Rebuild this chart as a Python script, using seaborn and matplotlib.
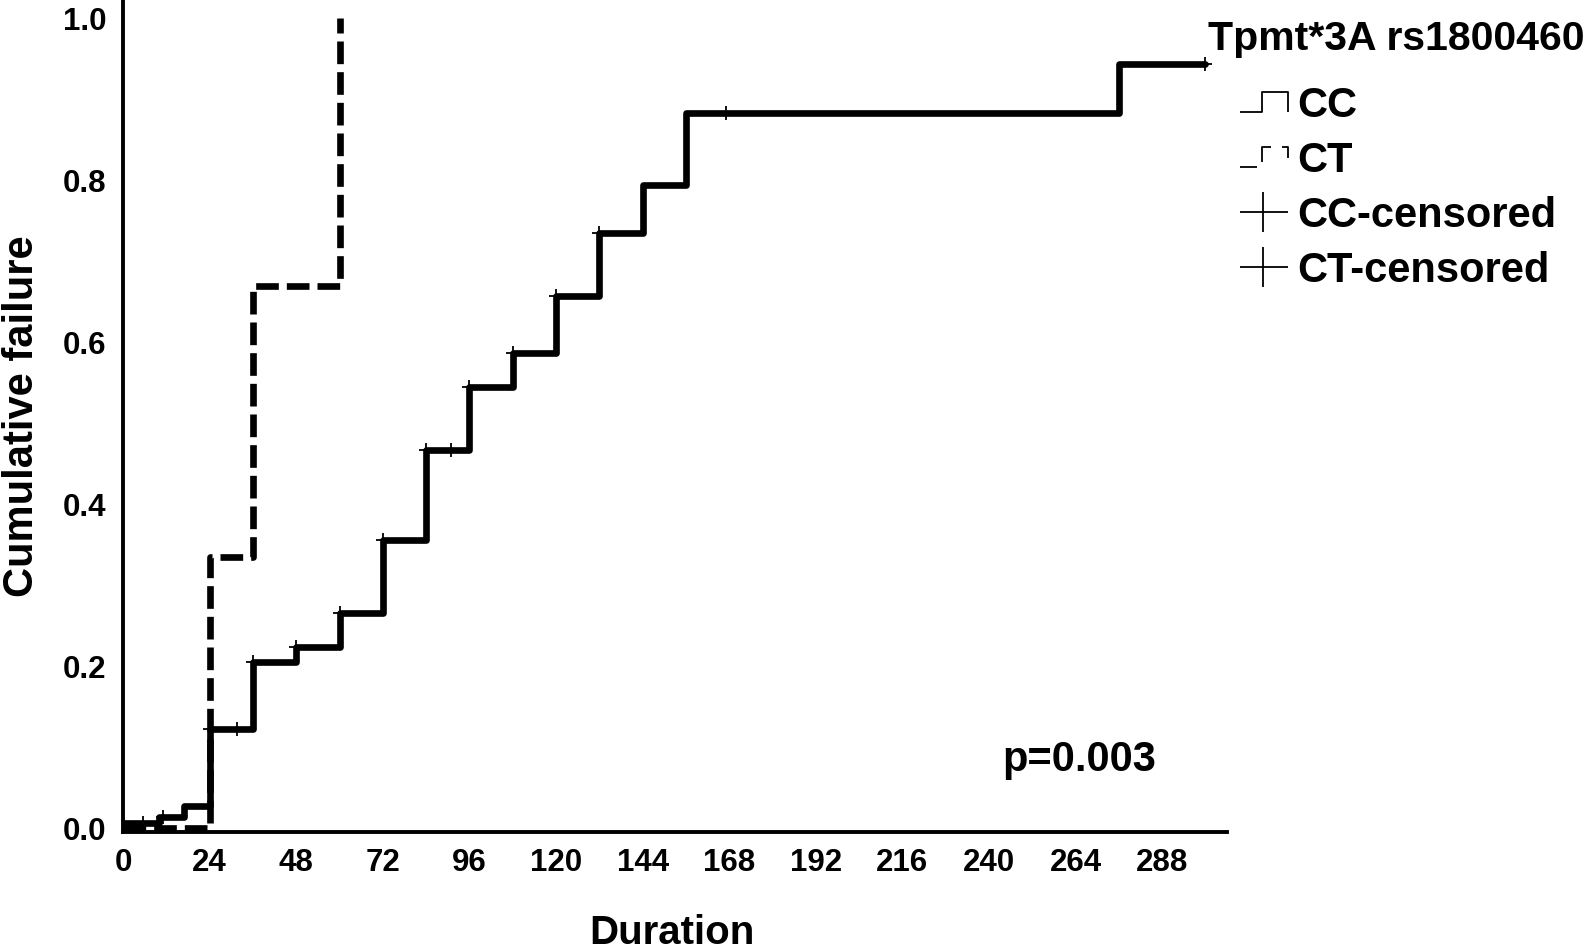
import numpy as np
import pandas as pd
import seaborn as sns
import matplotlib.pyplot as plt
from matplotlib.path import Path
from matplotlib.lines import Line2D

# step data (time in months, cumulative failure)
cc_time = [0, 10, 17, 24, 36, 48, 60, 72, 84, 96, 108, 120, 132, 144, 156, 276, 300]
cc_fail = [0.007, 0.014, 0.028, 0.123, 0.206, 0.224, 0.266, 0.356, 0.467, 0.545,
           0.587, 0.657, 0.735, 0.794, 0.883, 0.943, 0.943]
ct_time = [0, 24, 36, 60]
ct_fail = [0.0, 0.335, 0.669, 1.0]
# censored times for CC
cc_cens = [5.5, 11, 24, 31.5, 36, 48, 60, 72, 84, 91, 96, 108, 120, 132, 167, 300]

xticks = list(range(0, 289, 24))
yticks = [0.0, 0.2, 0.4, 0.6, 0.8, 1.0]

sns.set_theme(style='white')
plt.rcParams['font.family'] = ['Liberation Sans', 'DejaVu Sans']
plt.rcParams['font.weight'] = 'bold'
plt.rcParams['text.color'] = 'black'
plt.rcParams['axes.labelcolor'] = 'black'
plt.rcParams['xtick.color'] = 'black'
plt.rcParams['ytick.color'] = 'black'

fig = plt.figure(figsize=(15.94, 9.5), dpi=100)
ax = fig.add_axes([0.0772, 0.1245, 0.6926, 0.8755])

cc = pd.DataFrame({'t': cc_time, 'f': cc_fail})
ct = pd.DataFrame({'t': ct_time, 'f': ct_fail})

sns.lineplot(data=cc, x='t', y='f', ax=ax, color='black', lw=4.8,
             drawstyle='steps-post', estimator=None, sort=False)
sns.lineplot(data=ct, x='t', y='f', ax=ax, color='black', lw=4.8,
             drawstyle='steps-post', estimator=None, sort=False)
ax.lines[-1].set_linestyle((0, (3.4, 1.2)))
ax.lines[-1].set_dash_capstyle('butt')

# censor marks sit on the CC step curve
idx = np.searchsorted(cc_time, cc_cens, side='right') - 1
cens_df = pd.DataFrame({'t': cc_cens, 'f': np.array(cc_fail)[idx]})
sns.scatterplot(data=cens_df, x='t', y='f', ax=ax, marker='+', s=110,
                color='black', linewidth=1.3, zorder=5)

ax.set_xlim(0, 306)
ax.set_ylim(-0.004, 1.0226)
ax.set_xticks(xticks)
ax.set_yticks(yticks)
ax.set_yticklabels([f'{v:.1f}' for v in yticks])
ax.tick_params(axis='both', length=0, labelsize=22.5, labelcolor='black')
ax.tick_params(axis='x', pad=12)
ax.tick_params(axis='y', pad=12)
for s in ['top', 'right']:
    ax.spines[s].set_visible(False)
for s in ['left', 'bottom']:
    ax.spines[s].set_color('black')
    ax.spines[s].set_linewidth(2.8)

ax.set_xlabel('Duration', fontsize=29, fontweight='bold')
ax.set_ylabel('Cumulative failure', fontsize=30, fontweight='bold')
ax.xaxis.label.set_va('center')
ax.xaxis.set_label_coords(0.497, -0.1215)
ax.yaxis.label.set_va('center')
ax.yaxis.set_label_coords(-0.0915, 0.5)

ax.text(243.6, 0.085, 'p=0.003', fontsize=30, fontweight='bold', va='center', ha='left')

# legend icons
cc_icon = Path([(-1, -0.4), (-0.1, -0.4), (-0.1, 0.4), (1, 0.4), (1, -0.4)],
               [Path.MOVETO, Path.LINETO, Path.LINETO, Path.LINETO, Path.LINETO])
ct_icon = Path([(-1, -0.4), (-0.3, -0.4), (-0.1, -0.2), (-0.1, 0.4), (0.3, 0.4),
                (0.75, 0.4), (1, 0.4), (1, -0.05)],
               [Path.MOVETO, Path.LINETO, Path.MOVETO, Path.LINETO, Path.LINETO,
                Path.MOVETO, Path.LINETO, Path.LINETO])
plus_icon = Path([(-1, 0), (1, 0), (-0.05, -0.83), (-0.05, 0.83)],
                 [Path.MOVETO, Path.LINETO, Path.MOVETO, Path.LINETO])

handles = [
    Line2D([], [], ls='none', marker=cc_icon, markersize=35, mfc='none', mec='black', mew=1.3),
    Line2D([], [], ls='none', marker=ct_icon, markersize=35, mfc='none', mec='black', mew=1.3),
    Line2D([], [], ls='none', marker=plus_icon, markersize=35, mfc='none', mec='black', mew=1.3),
    Line2D([], [], ls='none', marker=plus_icon, markersize=35, mfc='none', mec='black', mew=1.3),
]
labels = ['CC', 'CT', 'CC-censored', 'CT-censored']
fig.legend(handles, labels, loc='upper left', bbox_to_anchor=(1240 / 1594, 1 - 86 / 950),
           frameon=False, handlelength=1.17, handletextpad=0.2,
           labelspacing=0.36, borderpad=0, borderaxespad=0, numpoints=1,
           prop={'weight': 'bold', 'size': 30})
fig.text(1208 / 1594, 1 - 39 / 950, 'Tpmt*3A rs1800460', fontsize=29.5,
         fontweight='bold', ha='left', va='center')

fig.savefig('out.png', dpi=100, facecolor='white')
